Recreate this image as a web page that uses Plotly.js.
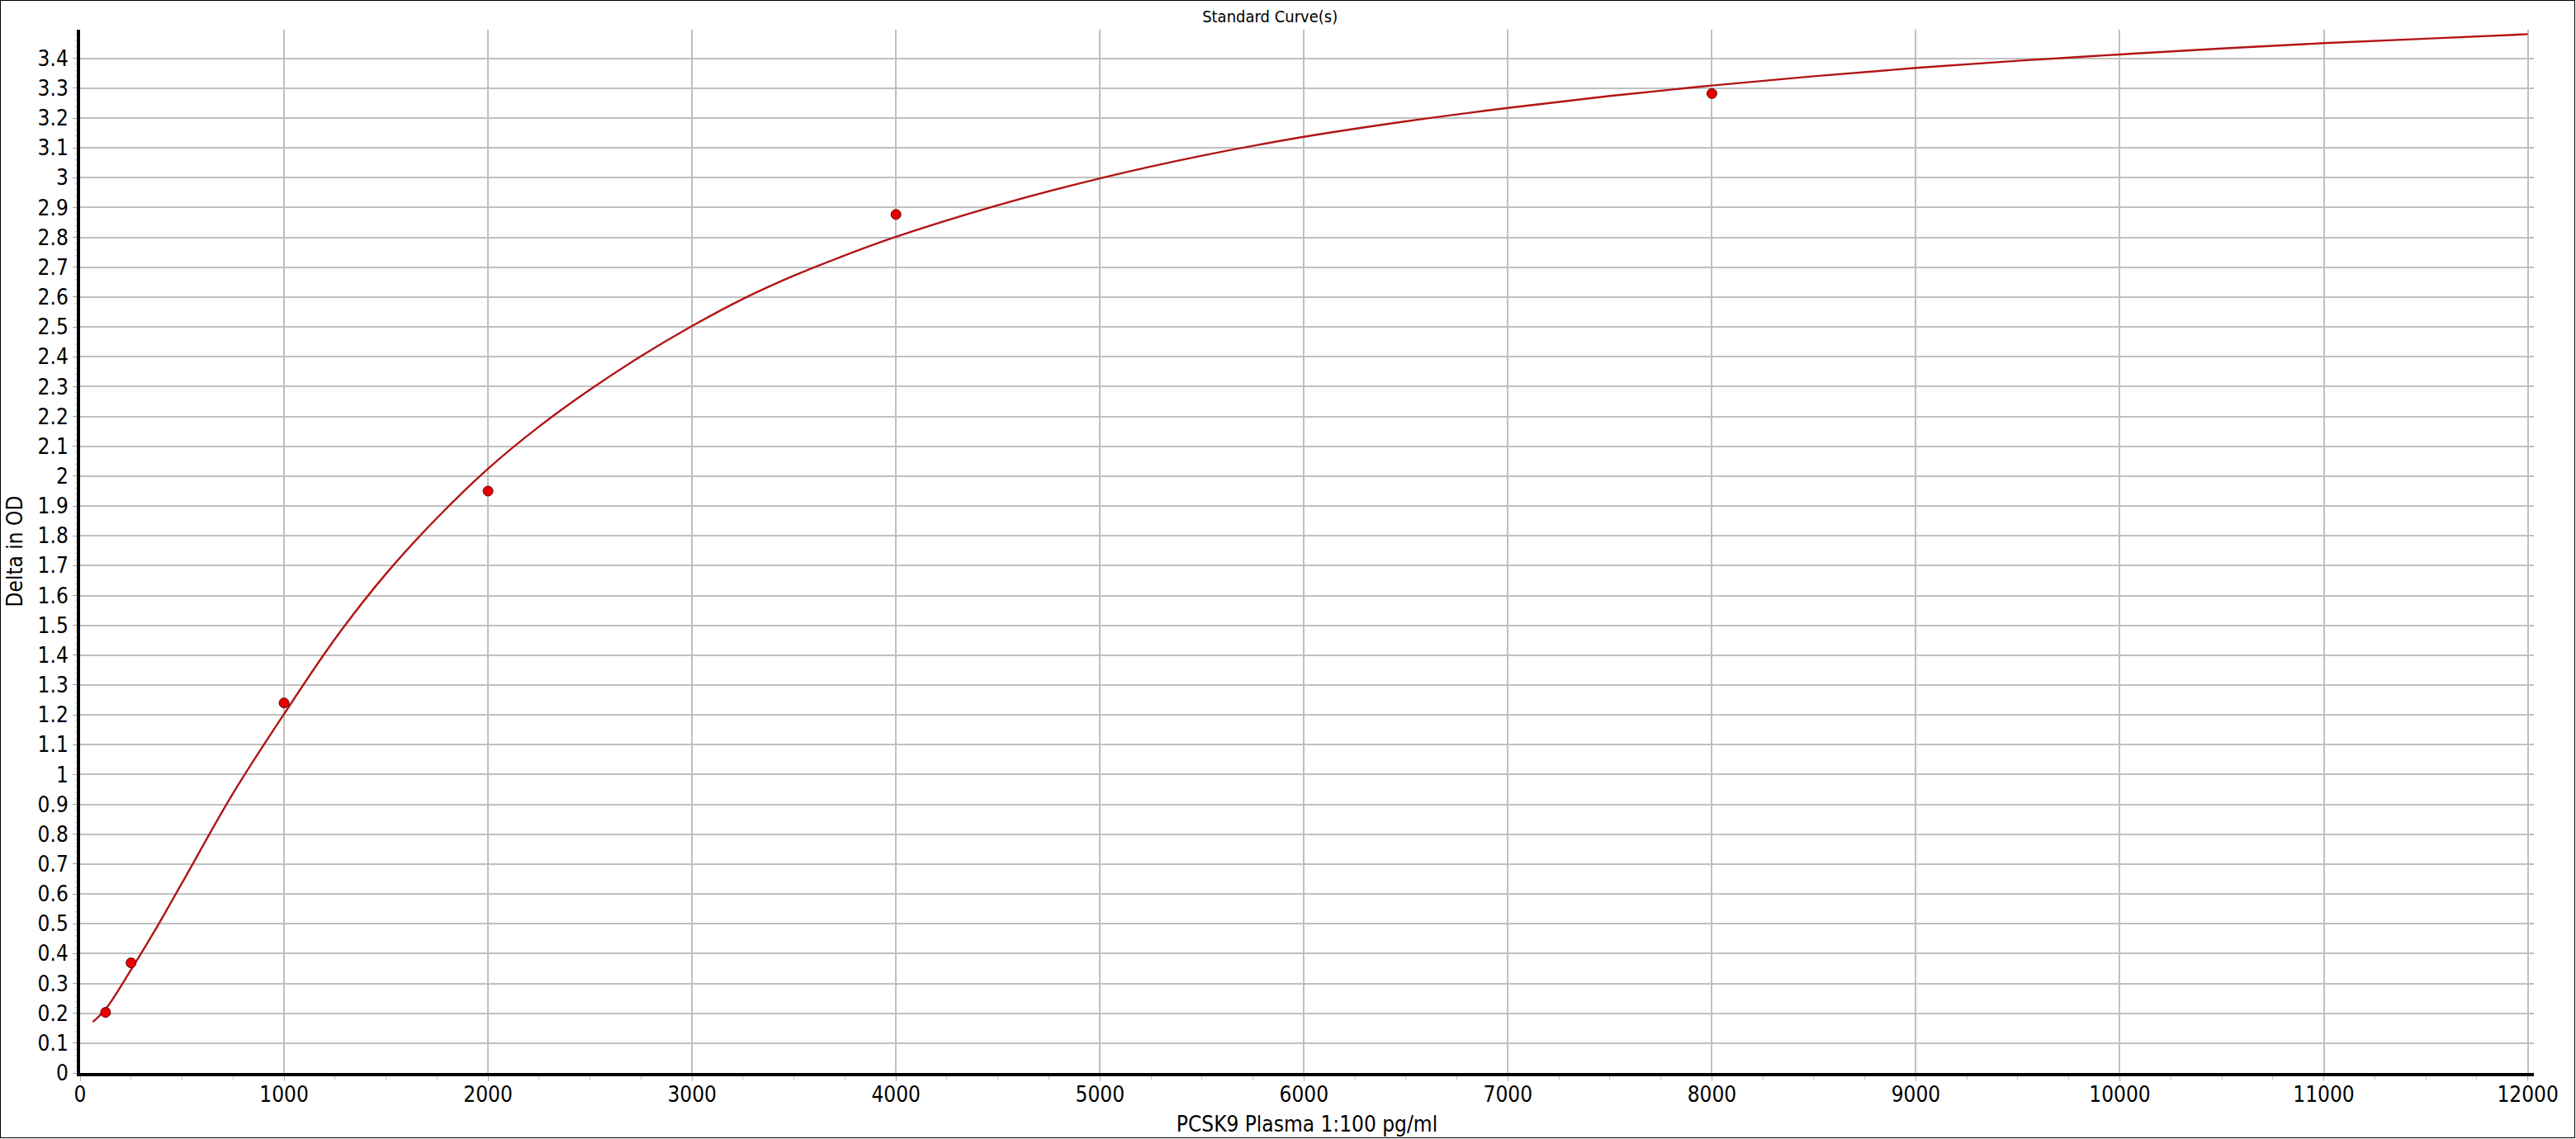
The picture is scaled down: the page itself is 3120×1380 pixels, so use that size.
<!DOCTYPE html>
<html>
<head>
<meta charset="utf-8">
<script src="https://cdn.plot.ly/plotly-3.0.1.min.js"></script>
<style>
  html, body { margin: 0; padding: 0; background: #fff; }
  #chart { width: 3120px; height: 1380px; }
  #frame { position: absolute; left: 0; top: 0; width: 3119px; height: 1379px; box-sizing: border-box; border: 1px solid #000; pointer-events: none; }
</style>
</head>
<body>
<div id="chart"></div>
<div id="frame"></div>
<script>
// Standards (measured points)
const stdConc = [125, 250, 1000, 2000, 4000, 8000];
const stdOD   = [0.203, 0.369, 1.240, 1.950, 2.877, 3.282];

// Fitted standard curve
const curveConc = [62, 125, 250, 375, 500, 750, 1000, 1250, 1500, 1750, 2000, 2250, 2500, 2750, 3000,
                   3250, 3500, 3750, 4000, 4500, 5000, 5500, 6000, 6500, 7000, 7500, 8000, 8500, 9000,
                   9500, 10000, 10500, 11000, 11500, 12000];
const curveOD   = [0.171, 0.214, 0.346, 0.487, 0.637, 0.937, 1.203, 1.455, 1.673, 1.860, 2.025, 2.166, 2.290, 2.402, 2.503,
                   2.594, 2.672, 2.740, 2.802, 2.908, 2.998, 3.074, 3.137, 3.189, 3.234, 3.274, 3.309, 3.340, 3.368,
                   3.392, 3.413, 3.433, 3.451, 3.466, 3.481];

const chartTitle = 'Standard Curve(s)';
const xTitle = 'PCSK9 Plasma 1:100 pg/ml';
const yTitle = 'Delta in OD';

const FONT = '"DejaVu Sans Condensed", "Liberation Sans", Arial, sans-serif';

const traces = [
  {
    x: curveConc, y: curveOD, type: 'scatter', mode: 'lines',
    line: { color: 'rgb(178,20,20)', width: 2.4, shape: 'spline', smoothing: 1 },
    hoverinfo: 'skip', showlegend: false
  },
  {
    x: stdConc, y: stdOD, type: 'scatter', mode: 'markers',
    marker: { color: 'rgb(232,0,0)', size: 12, line: { color: 'rgb(90,0,0)', width: 1 } },
    showlegend: false
  }
];

const layout = {
  width: 3120, height: 1380,
  paper_bgcolor: '#fff', plot_bgcolor: '#fff',
  margin: { l: 97, r: 51, t: 36, b: 80, pad: 0 },
  font: { family: FONT, color: '#000', size: 25 },
  showlegend: false,
  title: {
    text: chartTitle,
    font: { family: FONT, size: 20, color: '#000' },
    xref: 'container', yref: 'container',
    x: 0.493, xanchor: 'center', y: 1 - 20 / 1380, yanchor: 'middle'
  },
  xaxis: {
    range: [0, 12030], dtick: 1000, tick0: 0, tickformat: 'd',
    showgrid: true, gridcolor: '#c0c0c0', gridwidth: 2,
    zeroline: false,
    showline: true, linecolor: '#000', linewidth: 4,
    ticks: 'outside', ticklen: 6, tickwidth: 1, tickcolor: '#b0b0b0',
    ticklabelstandoff: -6,
    tickfont: { family: FONT, size: 26, color: '#000' },
    minor: { dtick: 250, ticks: 'outside', ticklen: 4, tickcolor: '#c8c8c8', tickwidth: 1, showgrid: false },
    title: { text: xTitle, font: { family: FONT, size: 26, color: '#000' }, standoff: 14 },
    fixedrange: true
  },
  yaxis: {
    range: [0, 3.496], dtick: 0.1, tick0: 0,
    showgrid: true, gridcolor: '#c0c0c0', gridwidth: 2,
    zeroline: false,
    showline: true, linecolor: '#000', linewidth: 4,
    ticks: 'outside', ticklen: 5, tickwidth: 1, tickcolor: '#a0a0a0',
    tickfont: { family: FONT, size: 26, color: '#000' },
    minor: { dtick: 0.02, ticks: 'outside', ticklen: 3, tickcolor: '#d8d8d8', tickwidth: 1, showgrid: false },
    title: { text: yTitle, font: { family: FONT, size: 26, color: '#000' }, standoff: 12 },
    fixedrange: true
  }
};

Plotly.newPlot('chart', traces, layout, { displayModeBar: false, staticPlot: true });
</script>
</body>
</html>
